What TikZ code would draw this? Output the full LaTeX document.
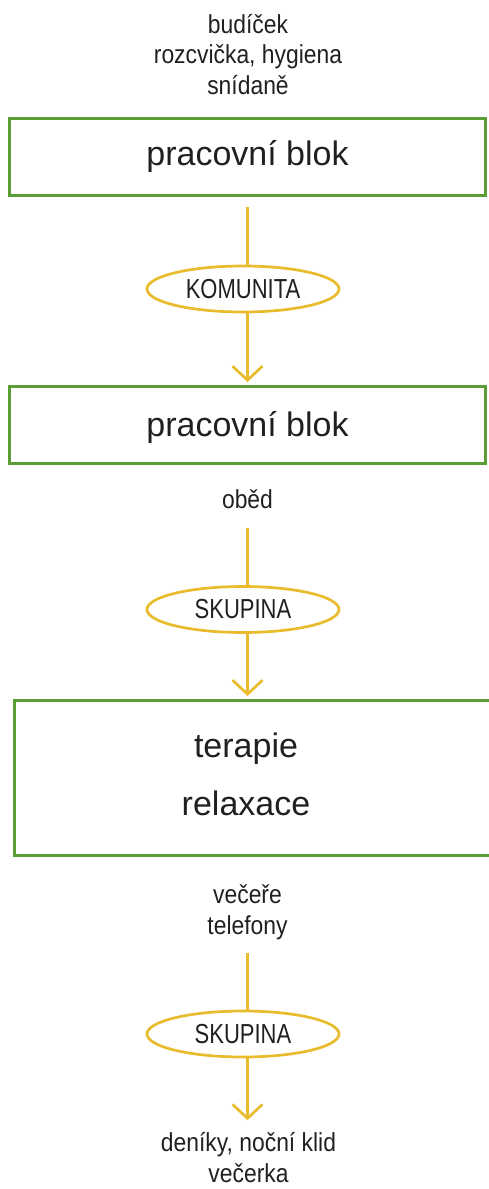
\documentclass[tikz,border=0pt]{standalone}
\usepackage{fontspec}
\setmainfont{Liberation Sans}
\newfontfamily\notefont[FakeStretch=0.88]{Liberation Sans}
\newfontfamily\ovalfont[FakeStretch=0.8]{Liberation Sans}
\usetikzlibrary{arrows.meta,shapes.geometric}
\definecolor{grn}{HTML}{5B9E35}
\definecolor{ylw}{HTML}{E8BC2C}
\definecolor{ink}{HTML}{231F20}
\begin{document}
\begin{tikzpicture}[x=1pt,y=-1pt,
  box/.style={draw=grn,line width=2.7pt,text=ink,font=\fontsize{34}{40}\selectfont,inner sep=0pt},
  bigtext/.style={text=ink,align=center,font=\fontsize{34}{58}\selectfont,inner sep=0pt},
  oval/.style={ellipse,draw=ylw,line width=2.7pt,minimum width=192pt,minimum height=46pt,inner sep=0pt,text=ink,font=\ovalfont\fontsize{27.5}{30}\selectfont},
  note/.style={text=ink,align=center,font=\notefont\fontsize{26}{30.5}\selectfont,inner sep=0pt},
  conn/.style={draw=ylw,line width=2.7pt},
  arr/.style={conn,-{Straight Barb[length=14pt,width=30pt]}}]
\path[use as bounding box] (0,0) rectangle (488,1189);

% top notes (base anchor = last line's baseline)
\node[note,anchor=base] (n1) at (248,94) {budíček\\rozcvička, hygiena\\snídaně};

% box 1
\node[box,minimum width=476.3pt,minimum height=77.3pt,text height=24pt,text depth=8pt] (b1) at (247.5,157) {pracovní blok};
\node[oval] (e1) at (243,289) {KOMUNITA};

% box 2
\node[box,minimum width=476.3pt,minimum height=77.3pt,text height=28pt,text depth=4.6pt] (b2) at (247.5,425) {pracovní blok};
\node[note,anchor=base] (n2) at (247.5,508) {oběd};
\node[oval] (e2) at (243,609.5) {SKUPINA};

% box 3
\node[draw=grn,line width=2.7pt,minimum width=477.3pt,minimum height=155.3pt,inner sep=0pt] (b3) at (253,778) {};
\node[bigtext,anchor=base] (t3) at (246,815) {terapie\\relaxace};
\node[note,anchor=base] (n3) at (247.5,934) {večeře\\telefony};
\node[oval] (e3) at (243,1034) {SKUPINA};
\node[note,anchor=base] (n4) at (248.5,1182) {deníky, noční klid\\večerka};

% connectors
\draw[conn,shorten <=10pt] (b1.south) -- (b1.south |- e1.north);
\draw[arr,shorten >=3pt] (b1.south |- e1.south) -- (b2.north);
\draw[conn,shorten <=20pt] (n2.base) -- (n2.base |- e2.north);
\draw[arr,shorten >=3pt] (n2.base |- e2.south) -- (n2.base |- b3.north);
\draw[conn,shorten <=13pt] (n3.south) -- (n3.south |- e3.north);
\draw[arr,shorten >=12pt] (n3.south |- e3.south) -- (n3.south |- n4.north);
\end{tikzpicture}
\end{document}
